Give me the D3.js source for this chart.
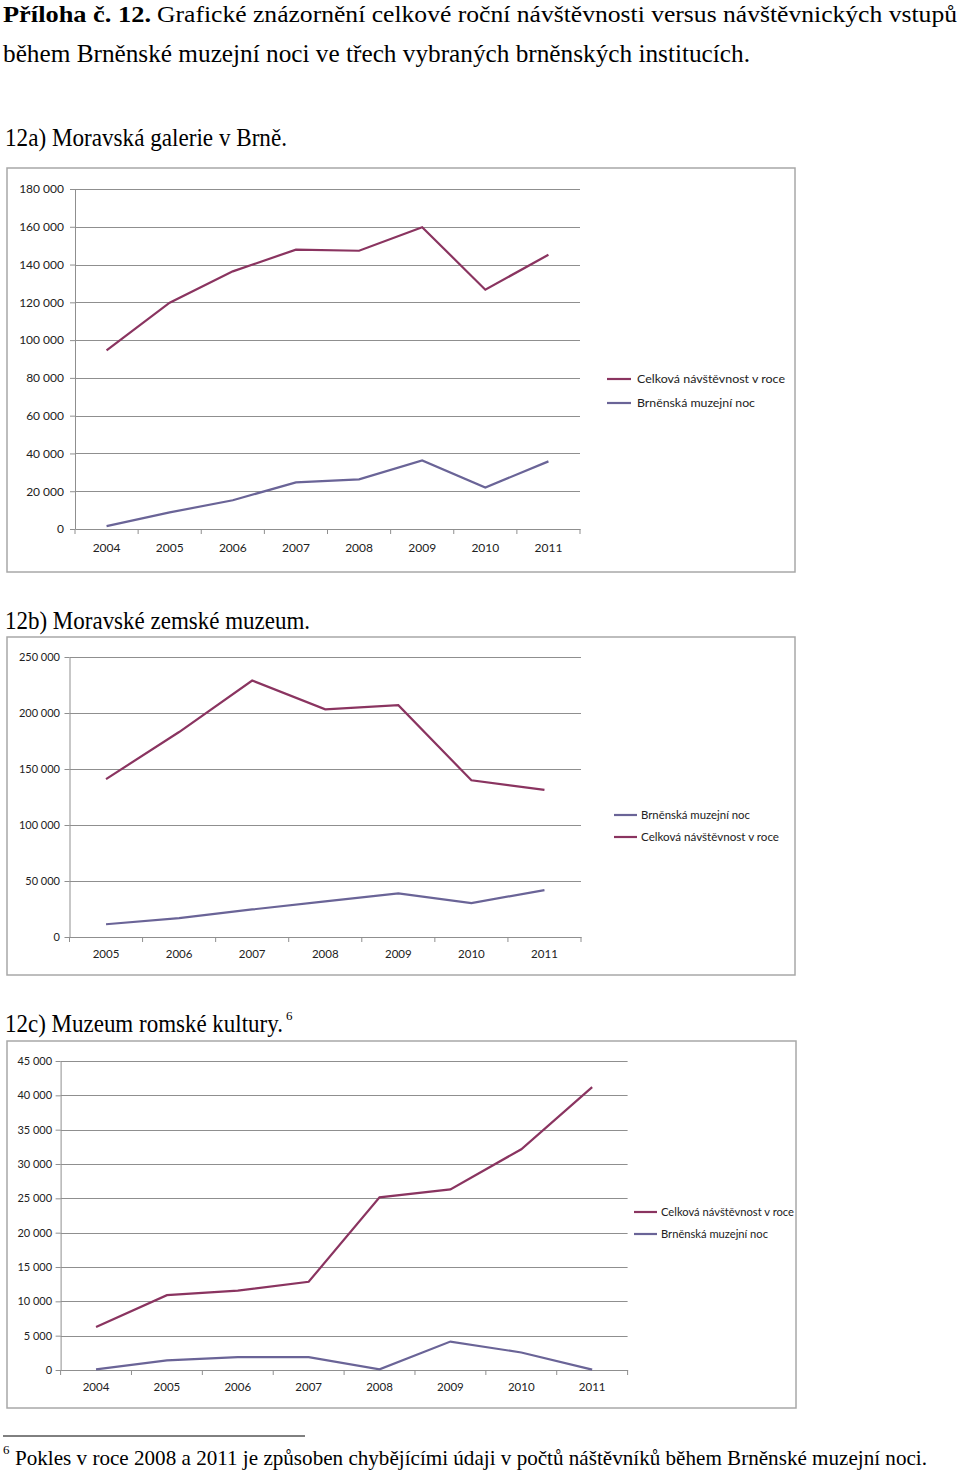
<!DOCTYPE html>
<html>
<head>
<meta charset="utf-8">
<script src="https://cdn.jsdelivr.net/npm/d3@7/dist/d3.min.js"></script>
<style>
  html, body { margin: 0; padding: 0; background: #fff; }
  svg { display: block; }
</style>
</head>
<body>
<svg id="page" width="960" height="1474"></svg>
<script>
// ---------- DATA ----------
const seriesNames = ["Celková návštěvnost v roce", "Brněnská muzejní noc"];

// 12a) Moravská galerie v Brně
const yearsA = ["2004", "2005", "2006", "2007", "2008", "2009", "2010", "2011"];
const totalA = [94600, 119800, 136400, 147900, 147300, 159800, 126700, 145200];
const nightA = [1500, 8800, 15200, 24700, 26300, 36300, 22000, 35800];
const yTicksA = [0, 20000, 40000, 60000, 80000, 100000, 120000, 140000, 160000, 180000];

// 12b) Moravské zemské muzeum
const yearsB = ["2005", "2006", "2007", "2008", "2009", "2010", "2011"];
const totalB = [141000, 183000, 229000, 203300, 207000, 139900, 131300];
const nightB = [11400, 16800, 24600, 31800, 38900, 30300, 41900];
const yTicksB = [0, 50000, 100000, 150000, 200000, 250000];

// 12c) Muzeum romské kultury
const yearsC = ["2004", "2005", "2006", "2007", "2008", "2009", "2010", "2011"];
const totalC = [6260, 10900, 11550, 12850, 25150, 26300, 32150, 41200];
const nightC = [100, 1400, 1880, 1880, 100, 4140, 2550, 50];
const yTicksC = [0, 5000, 10000, 15000, 20000, 25000, 30000, 35000, 40000, 45000];

// ---------- STYLE ----------
const RED = "#8a3460";
const BLUE = "#6a6497";
const GRID = "#8f8f8f";
const FRAME = "#a8a8a8";
const SANS = "Lato, 'Open Sans', sans-serif";
const SERIF = "'Liberation Serif', 'Times New Roman', serif";

const loc = d3.formatLocale({decimal: ",", thousands: " ", grouping: [3], currency: ["", ""]});
const fmt = loc.format(",d");

const svg = d3.select("#page");

// ---------- HEADINGS ----------
function serifText(x, y, str, size, len, weight) {
  const t = svg.append("text")
    .attr("x", x).attr("y", y)
    .attr("font-family", SERIF)
    .attr("font-size", size)
    .attr("font-weight", weight || "normal")
    .attr("fill", "#000")
    .text(str);
  if (len) t.attr("textLength", len).attr("lengthAdjust", "spacingAndGlyphs");
  return t;
}

// text with a superscript note mark, as one text element
function serifWithSup(x, y, supFirst, main, sup, size, len, supX) {
  const t = svg.append("text")
    .attr("y", y)
    .attr("font-family", SERIF)
    .attr("fill", "#000");
  if (supFirst) {
    t.append("tspan").attr("x", supX).attr("dy", -11).attr("font-size", 13).text(sup);
    t.append("tspan").attr("x", x).attr("dy", 11).attr("font-size", size)
      .attr("textLength", len).attr("lengthAdjust", "spacingAndGlyphs").text(main);
  } else {
    t.append("tspan").attr("x", x).attr("font-size", size)
      .attr("textLength", len).attr("lengthAdjust", "spacingAndGlyphs").text(main);
    t.append("tspan").attr("x", supX).attr("dy", -12).attr("font-size", 13).text(sup);
  }
  return t;
}

serifText(3, 22, "Příloha č. 12.", 24, 148, "bold");
serifText(157, 22, "Grafické znázornění celkové roční návštěvnosti versus návštěvnických vstupů", 24, 800);
serifText(3, 62, "během Brněnské muzejní noci ve třech vybraných brněnských institucích.", 25, 747);
serifText(5, 146, "12a) Moravská galerie v Brně.", 26, 282);
serifText(5, 629, "12b) Moravské zemské muzeum.", 26, 305);
serifWithSup(5, 1032, false, "12c) Muzeum romské kultury.", "6", 26, 278, 286);

// footnote
svg.append("line").attr("x1", 3).attr("x2", 305).attr("y1", 1436).attr("y2", 1436)
  .attr("stroke", "#000").attr("stroke-width", 1);
serifWithSup(15, 1465, true, "Pokles v roce 2008 a 2011 je způsoben chybějícími údaji v počtů náštěvníků během Brněnské muzejní noci.", "6", 22, 912, 3);

// ---------- CHART FUNCTION ----------
function drawChart(cfg) {
  const g = svg.append("g");

  g.append("rect")
    .attr("x", cfg.frame.x).attr("y", cfg.frame.y)
    .attr("width", cfg.frame.w).attr("height", cfg.frame.h)
    .attr("fill", "#fff").attr("stroke", FRAME).attr("stroke-width", 1.5);

  const x = d3.scaleBand().domain(cfg.years).range([cfg.left, cfg.right]).paddingInner(0).paddingOuter(0);
  const y = d3.scaleLinear().domain([0, d3.max(cfg.yTicks)]).range([cfg.bottom, cfg.top]);

  // gridlines
  g.append("g").selectAll("line")
    .data(cfg.yTicks.filter(v => v > 0))
    .join("line")
    .attr("x1", cfg.left).attr("x2", cfg.right)
    .attr("y1", d => Math.round(y(d)) + 0.5).attr("y2", d => Math.round(y(d)) + 0.5)
    .attr("stroke", GRID).attr("stroke-width", 1);

  // y axis
  const yAxis = d3.axisLeft(y).tickValues(cfg.yTicks).tickFormat(fmt)
    .tickSizeInner(5).tickSizeOuter(0).tickPadding(cfg.yPad);
  const ya = g.append("g").attr("transform", `translate(${cfg.left},0)`).call(yAxis);
  ya.select(".domain").attr("stroke", GRID);
  ya.selectAll(".tick line").attr("stroke", GRID);
  ya.selectAll(".tick text").attr("font-family", SANS).attr("font-size", cfg.yFont).attr("fill", "#222");

  // x axis
  const xAxis = d3.axisBottom(x).tickSize(0).tickSizeOuter(0).tickPadding(cfg.xPad);
  const xa = g.append("g").attr("transform", `translate(0,${cfg.bottom})`).call(xAxis);
  xa.select(".domain").attr("stroke", GRID);
  xa.selectAll(".tick text").attr("font-family", SANS).attr("font-size", cfg.xFont).attr("fill", "#222");
  const bounds = cfg.years.map(d => x(d)).concat([x(cfg.years[cfg.years.length - 1]) + x.bandwidth()]);
  g.append("g").selectAll("line").data(bounds).join("line")
    .attr("x1", d => d).attr("x2", d => d)
    .attr("y1", cfg.bottom).attr("y2", cfg.bottom + 5)
    .attr("stroke", GRID);

  // lines
  const line = d3.line()
    .x((d, i) => x(cfg.years[i]) + x.bandwidth() / 2)
    .y(d => y(d));
  const series = [
    {name: seriesNames[0], values: cfg.total, color: RED},
    {name: seriesNames[1], values: cfg.night, color: BLUE}
  ];
  [series[1], series[0]].forEach(s => {
    g.append("path").datum(s.values)
      .attr("d", line)
      .attr("fill", "none")
      .attr("stroke", s.color)
      .attr("stroke-width", 2.2)
      .attr("stroke-linejoin", "miter");
  });

  // legend
  cfg.legendOrder.forEach((idx, k) => {
    const s = series[idx];
    const ly = cfg.legend.y[k];
    g.append("line")
      .attr("x1", cfg.legend.x).attr("x2", cfg.legend.x + cfg.legend.lineW)
      .attr("y1", ly).attr("y2", ly)
      .attr("stroke", s.color).attr("stroke-width", 2.2);
    g.append("text")
      .attr("x", cfg.legend.tx).attr("y", ly + 4)
      .attr("font-family", SANS).attr("font-size", cfg.legend.font)
      .attr("fill", "#222")
      .attr("textLength", cfg.legend.len[idx]).attr("lengthAdjust", "spacingAndGlyphs")
      .text(s.name);
  });
}

drawChart({
  frame: {x: 7, y: 168, w: 788, h: 404},
  left: 75, right: 580, top: 189, bottom: 529,
  years: yearsA, total: totalA, night: nightA, yTicks: yTicksA,
  yFont: 12, xFont: 12, yPad: 6, xPad: 14,
  legendOrder: [0, 1],
  legend: {x: 607, lineW: 24, tx: 637, y: [379, 403], font: 11.5, len: [148, 118]}
});

drawChart({
  frame: {x: 7, y: 637, w: 788, h: 338},
  left: 69.5, right: 581, top: 657, bottom: 937,
  years: yearsB, total: totalB, night: nightB, yTicks: yTicksB,
  yFont: 11, xFont: 11.5, yPad: 4.5, xPad: 13,
  legendOrder: [1, 0],
  legend: {x: 614, lineW: 23, tx: 641, y: [815, 837], font: 11, len: [138, 109]}
});

drawChart({
  frame: {x: 7, y: 1041, w: 789, h: 367},
  left: 60.6, right: 627.6, top: 1061, bottom: 1370,
  years: yearsC, total: totalC, night: nightC, yTicks: yTicksC,
  yFont: 11, xFont: 11.5, yPad: 3.5, xPad: 13,
  legendOrder: [0, 1],
  legend: {x: 634, lineW: 23, tx: 661, y: [1212, 1234], font: 11, len: [133, 107]}
});
</script>
</body>
</html>
